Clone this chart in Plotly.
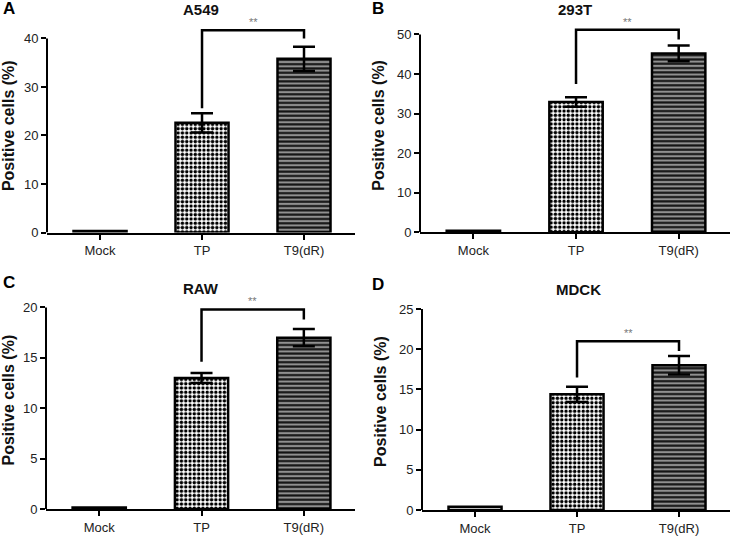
import plotly.graph_objects as go

# ---------------- data ----------------
categories = ["Mock", "TP", "T9(dR)"]
panel_letters = ["A", "B", "C", "D"]
panel_titles = ["A549", "293T", "RAW", "MDCK"]
y_title = "Positive cells (%)"

a549_values = [0.3, 22.6, 35.8]
a549_errors = [0.0, 2.0, 2.5]
t293_values = [0.4, 32.9, 45.2]
t293_errors = [0.0, 1.2, 2.0]
raw_values = [0.15, 13.0, 17.0]
raw_errors = [0.0, 0.5, 0.85]
mdck_values = [0.4, 14.4, 18.0]
mdck_errors = [0.0, 0.95, 1.15]

# significance bracket: [left leg bottom, bracket top, right leg bottom]
a549_bracket = [25.6, 41.7, 40.0]
t293_bracket = [37.5, 51.2, 48.7]
raw_bracket = [14.6, 19.8, 18.8]
mdck_bracket = [16.5, 21.0, 19.8]
sig_label = "**"

# axis scales: [max tick, dtick, plotted max]
a549_scale = [40, 10, 44]
t293_scale = [50, 10, 54]
raw_scale = [20, 5, 21.6]
mdck_scale = [25, 5, 27]

# ---------------- geometry (pixels) ----------------
W, H = 734, 542
# (x_left, x_right, y_top, y_bottom) in pixels
boxes = [
    (47, 355, 19.3, 236.0),
    (420, 730, 18.9, 235.7),
    (46, 355, 295.6, 516.7),
    (422, 730, 297.4, 517.7),
]
letter_pos = [(1, 9), (370, 9), (1, 287), (370, 289)]
title_pos = [(201, 10), (575, 10), (201, 293), (578, 294)]

FONT = "Arial, Liberation Sans, Helvetica, sans-serif"

panels = [
    (a549_values, a549_errors, a549_bracket, a549_scale),
    (t293_values, t293_errors, t293_bracket, t293_scale),
    (raw_values, raw_errors, raw_bracket, raw_scale),
    (mdck_values, mdck_errors, mdck_bracket, mdck_scale),
]

bar_styles = [
    dict(shape="", fg="black", bg="white", size=4, sol=0.3),
    dict(shape=".", fg="black", bg="white", size=4.3, sol=0.5),
    dict(shape="-", fg="#141414", bg="#909090", size=4.3, sol=0.5),
]

fig = go.Figure()
layout = dict(
    width=W, height=H, autosize=False,
    margin=dict(l=0, r=0, t=0, b=0),
    paper_bgcolor="white", plot_bgcolor="white",
    showlegend=False, barmode="overlay",
    font=dict(family=FONT, color="#222"),
)
shapes = []
annotations = []

for i, (vals, errs, br, scale) in enumerate(panels):
    n = "" if i == 0 else str(i + 1)
    xa, ya = "x" + n, "y" + n
    xl, xr, yt, yb = boxes[i]
    max_tick, dtick, top = scale

    for j, cat in enumerate(categories):
        st = bar_styles[j]
        marker = dict(color=st["bg"], line=dict(color="black", width=2.5))
        if st["shape"]:
            marker["pattern"] = dict(shape=st["shape"], fgcolor=st["fg"],
                                     bgcolor=st["bg"], size=st["size"],
                                     solidity=st["sol"], fillmode="replace")
        fig.add_trace(go.Bar(
            x=[cat], y=[vals[j]], xaxis=xa, yaxis=ya,
            width=0.52, marker=marker,
            error_y=dict(type="data", array=[errs[j]], visible=errs[j] > 0,
                         color="black", thickness=2.5, width=11),
            hoverinfo="skip",
        ))
    fig.add_trace(go.Scatter(
        x=[categories[1], categories[1], categories[2], categories[2]],
        y=[br[0], br[1], br[1], br[2]],
        xaxis=xa, yaxis=ya, mode="lines",
        line=dict(color="black", width=2.5),
        hoverinfo="skip",
    ))

    layout["xaxis" + n] = dict(
        domain=[xl / W, xr / W], anchor=ya,
        type="category", categoryorder="array", categoryarray=categories,
        range=[-0.52, 2.5],
        showline=True, linecolor="black", linewidth=2,
        ticks="outside", ticklen=5, tickwidth=2, tickcolor="black",
        tickfont=dict(size=13, color="#222", family=FONT),
        showgrid=False, zeroline=False, fixedrange=True,
    )
    layout["yaxis" + n] = dict(
        domain=[(H - yb) / H, (H - yt) / H], anchor=xa,
        range=[0, top], tick0=0, dtick=dtick,
        showline=False,
        ticks="outside", ticklen=5, tickwidth=2, tickcolor="black",
        tickfont=dict(size=13, color="#222", family=FONT),
        showgrid=False, zeroline=False, fixedrange=True,
        title=dict(text="<b>" + y_title + "</b>", standoff=8,
                   font=dict(size=16, color="#111", family=FONT)),
    )
    # y-axis line only up to the top tick
    shapes.append(dict(type="line", xref=xa + " domain", yref=ya,
                       x0=0, x1=0, y0=0, y1=max_tick,
                       line=dict(color="black", width=2)))
    annotations.append(dict(
        x=1.5, y=br[1], xref=xa, yref=ya, text=sig_label,
        showarrow=False, yanchor="bottom", yshift=0,
        font=dict(size=11, color="#777", family=FONT),
    ))
    lx, ly = letter_pos[i]
    annotations.append(dict(
        x=lx / W, y=(H - ly) / H, xref="paper", yref="paper",
        text="<b>" + panel_letters[i] + "</b>", showarrow=False,
        xanchor="left", yanchor="middle",
        font=dict(size=17, color="black", family=FONT),
    ))
    tx, ty = title_pos[i]
    annotations.append(dict(
        x=tx / W, y=(H - ty) / H, xref="paper", yref="paper",
        text="<b>" + panel_titles[i] + "</b>", showarrow=False,
        xanchor="center", yanchor="middle",
        font=dict(size=15, color="#111", family=FONT),
    ))

layout["shapes"] = shapes
layout["annotations"] = annotations
fig.update_layout(**layout)
# remove the default page margin so the figure fills the window exactly
fig.write_html("out.html", config={"displayModeBar": False, "staticPlot": True},
               post_script="document.body.style.margin='0';")
